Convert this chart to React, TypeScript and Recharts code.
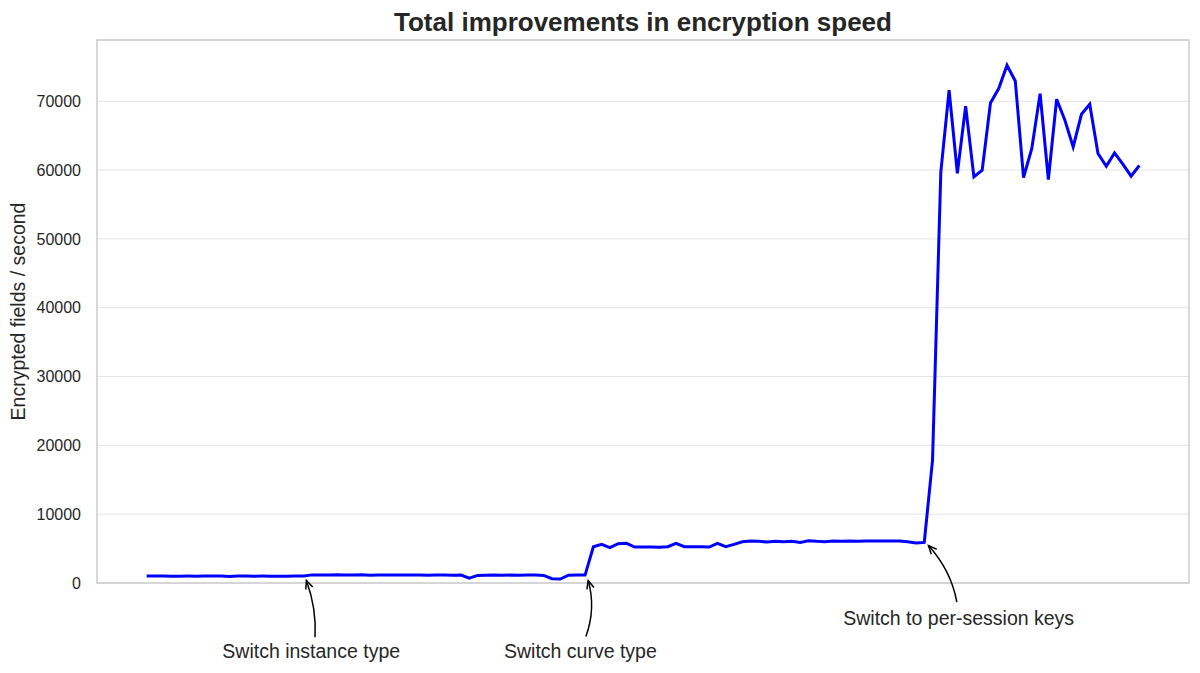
import { LineChart, Line, XAxis, YAxis, CartesianGrid, ReferenceArea, ReferenceDot } from 'recharts';

// encrypted fields / second per run, grouped by setup phase
const baselineRuns = [
  1000, 1010, 1005, 990, 995, 1000, 985, 1000, 1010, 1000,
  960, 1000, 1005, 995, 1000, 980, 970, 990, 1000, 1020,
];
const newInstanceRuns = [
  1180, 1150, 1160, 1200, 1150, 1170, 1190, 1140, 1160, 1180,
  1150, 1160, 1170, 1150, 1140, 1160, 1170, 1130, 1160, 700,
  1100, 1120, 1160, 1120, 1150, 1130, 1150, 1170, 1100, 620,
  580, 1130, 1150, 1150,
];
const newCurveRuns = [
  5270, 5620, 5130, 5710, 5760, 5230, 5230, 5230, 5180, 5270,
  5760, 5270, 5270, 5270, 5230, 5760, 5270, 5620, 6000, 6100,
  6050, 5950, 6050, 6000, 6050, 5900, 6150, 6050, 6000, 6100,
  6050, 6100, 6050, 6100, 6100, 6100, 6100, 6100, 6000, 5800,
  5900,
];
const perSessionRuns = [
  17900, 59700, 71600, 59540, 69270, 59000, 59980, 69750, 71840, 75230,
  72950, 58920, 63130, 71110, 58630, 70290, 67240, 63360, 68110, 69560,
  62400, 60560, 62490, 60850, 59110, 60660,
];

const yTicks = [0, 10000, 20000, 30000, 40000, 50000, 60000, 70000];

const speeds = [...baselineRuns, ...newInstanceRuns, ...newCurveRuns, ...perSessionRuns];
const data = speeds.map((speed, run) => ({ run, speed }));

const annotations = [
  { run: 19, label: 'Switch instance type', tip: [2.6, 4.5], ctrl: [12.9, 32.8], tail: [11.2, 61.2], text: [7.4, 75.5] },
  { run: 53, label: 'Switch curve type', tip: [3.1, 5.4], ctrl: [11, 33.4], tail: [0.8, 61.4], text: [-4.7, 76.4] },
  { run: 94, label: 'Switch to per-session keys', tip: [4.2, 3.2], ctrl: [26.8, 28.2], tail: [32.6, 59.8], text: [34.4, 75.2] },
];

const FONT = '"Liberation Sans", Arial, sans-serif';
const INK = '#262626';

function makeArrow(a: (typeof annotations)[number]) {
  return (props: any) => {
    const { cx, cy } = props;
    const px = cx + a.tip[0], py = cy + a.tip[1];
    const qx = cx + a.ctrl[0], qy = cy + a.ctrl[1];
    const tx = cx + a.tail[0], ty = cy + a.tail[1];
    const ang = Math.atan2(py - qy, px - qx);
    const len = 9, spread = 0.42;
    const h1x = px - len * Math.cos(ang - spread), h1y = py - len * Math.sin(ang - spread);
    const h2x = px - len * Math.cos(ang + spread), h2y = py - len * Math.sin(ang + spread);
    return (
      <g>
        <path d={`M${tx},${ty} Q${qx},${qy} ${px},${py}`} fill="none" stroke="#000" strokeWidth={1.5} />
        <path d={`M${h1x},${h1y} L${px},${py} L${h2x},${h2y}`} fill="none" stroke="#000" strokeWidth={1.5} />
        <text x={cx + a.text[0]} y={cy + a.text[1]} textAnchor="middle" dominantBaseline="central"
          fontSize={19.5} fontFamily={FONT} fill={INK}>{a.label}</text>
      </g>
    );
  };
}

export default function App() {
  return (
    <div style={{ position: 'absolute', left: 0, top: 0, width: 1200, height: 673, background: '#fff', fontFamily: FONT }}>
      <div style={{ position: 'absolute', left: 97, width: 1092, top: 9, textAlign: 'center', fontSize: 26, lineHeight: '26px', fontWeight: 'bold', color: INK }}>
        Total improvements in encryption speed
      </div>
      <LineChart width={1200} height={673} data={data} margin={{ top: 40, right: 11, bottom: 90, left: 0 }}>
        <CartesianGrid vertical={false} stroke="#e5e5e5" strokeWidth={1} />
        <ReferenceArea x1={-6} x2={126} y1={0} y2={78900} fill="none" stroke="#cccccc" strokeWidth={1.5} />
        <XAxis dataKey="run" type="number" domain={[-6, 126]} hide />
        <YAxis
          type="number"
          domain={[0, 78900]}
          ticks={yTicks}
          width={97}
          axisLine={false}
          tickLine={false}
          tickMargin={10}
          tick={{ fill: INK, fontSize: 16, fontFamily: FONT }}
          label={({ viewBox }: any) => (
            <text x={viewBox.x + 18} y={viewBox.y + viewBox.height / 2} transform={`rotate(-90 ${viewBox.x + 18} ${viewBox.y + viewBox.height / 2})`}
              textAnchor="middle" dominantBaseline="central" fontSize={19.5} fontFamily={FONT} fill={INK}>
              Encrypted fields / second
            </text>
          )}
        />
        <Line type="linear" dataKey="speed" stroke="#0000ff" strokeWidth={3} dot={false} isAnimationActive={false} />
        {annotations.map((a) => (
          <ReferenceDot key={a.run} x={a.run} y={speeds[a.run]} r={0} shape={makeArrow(a)} />
        ))}
      </LineChart>
    </div>
  );
}
